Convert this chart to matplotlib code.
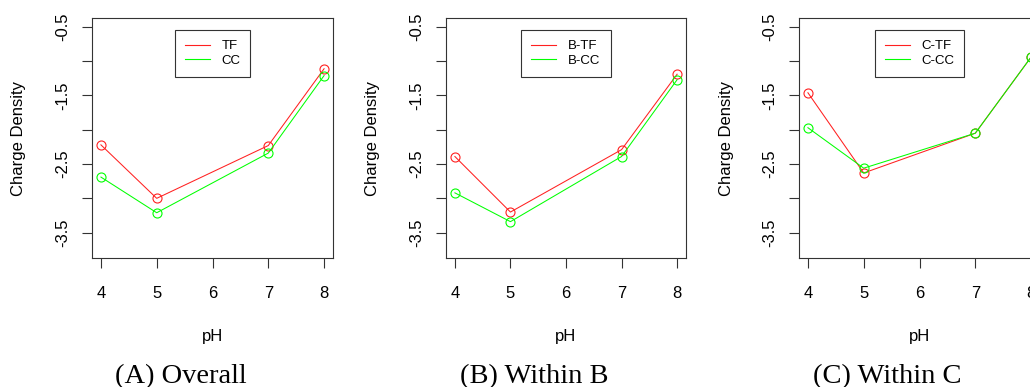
import matplotlib
matplotlib.use("Agg")
import matplotlib.pyplot as plt
from matplotlib.lines import Line2D

# pH levels and charge density series for each panel
ph = [4, 5, 7, 8]
overall_tf = [-2.22, -3.00, -2.23, -1.11]
overall_cc = [-2.69, -3.21, -2.34, -1.21]
b_tf = [-2.39, -3.20, -2.29, -1.19]
b_cc = [-2.92, -3.34, -2.39, -1.27]
c_tf = [-1.46, -2.63, -2.05, -0.94]
c_cc = [-1.97, -2.56, -2.05, -0.94]

panel_labels = [("TF", "CC"), ("B-TF", "B-CC"), ("C-TF", "C-CC")]
panel_captions = ["(A) Overall", "(B) Within B", "(C) Within C"]
x_ticks = [4, 5, 6, 7, 8]
y_ticks = [-3.5, -3.0, -2.5, -2.0, -1.5, -1.0, -0.5]
y_ticklabels = ["-3.5", "", "-2.5", "", "-1.5", "", "-0.5"]

W, H = 1030, 387
DPI = 100
plt.rcParams["font.family"] = ["Liberation Sans", "DejaVu Sans"]

fig = plt.figure(figsize=(W / DPI, H / DPI), dpi=DPI)
fig.patch.set_facecolor("white")

# axes boxes in pixel coordinates: (left, right)
boxes = [(92, 333), (446, 686), (799, 1040)]
top_px, bottom_px = 18, 258
caption_x = [181, 534, 887]

series = [(overall_tf, overall_cc), (b_tf, b_cc), (c_tf, c_cc)]
axis_color = "#333333"
red = "#ff2020"
green = "#00ff00"

for i, ((l, r), (tf, cc), (lab_tf, lab_cc)) in enumerate(zip(boxes, series, panel_labels)):
    ax = fig.add_axes([l / W, (H - bottom_px) / H, (r - l) / W, (bottom_px - top_px) / H])
    ax.plot(ph, tf, color=red, lw=0.75, marker="o", ms=6.5, mfc="none",
            mec=red, mew=0.8)
    ax.plot(ph, cc, color=green, lw=0.75, marker="o", ms=6.5, mfc="none",
            mec=green, mew=0.8)
    ax.set_xlim(3.84, 8.16)
    ax.set_ylim(-3.87, -0.37)
    ax.set_xticks(x_ticks)
    ax.set_xticklabels([str(t) for t in x_ticks])
    ax.set_yticks(y_ticks)
    ax.set_yticklabels(y_ticklabels, rotation=90, va="center")
    ax.tick_params(axis="both", direction="out", length=7, width=0.8,
                   color=axis_color, labelsize=12)
    ax.tick_params(axis="x", pad=13)
    ax.tick_params(axis="y", pad=9)
    for s in ax.spines.values():
        s.set_linewidth(0.8)
        s.set_color(axis_color)

    ax.set_xlabel("pH", fontsize=12)
    ax.xaxis.label.set_va("center")
    ax.xaxis.set_label_coords(0.5, (bottom_px - 336) / (bottom_px - top_px))
    ax.set_ylabel("Charge Density", fontsize=12)
    ax.yaxis.label.set_va("center")
    ax.yaxis.set_label_coords(-73 / (r - l), 0.5)

    handles = [Line2D([], [], color=red, lw=0.8), Line2D([], [], color=green, lw=0.8)]
    leg = ax.legend(handles, [lab_tf, lab_cc], loc="upper center",
                    bbox_to_anchor=(0.5, (bottom_px - 30) / (bottom_px - top_px)),
                    fontsize=9.5, handlelength=1.9, handletextpad=0.9, labelspacing=0.2,
                    borderpad=0.75, borderaxespad=0, fancybox=False, framealpha=1)
    leg.get_frame().set_edgecolor(axis_color)
    leg.get_frame().set_linewidth(0.8)

    fig.text(caption_x[i] / W, 4 / H, panel_captions[i], ha="center", va="baseline",
             fontsize=20.5, family=["Liberation Serif", "DejaVu Serif"])

fig.savefig("out.png", dpi=DPI, facecolor="white")
